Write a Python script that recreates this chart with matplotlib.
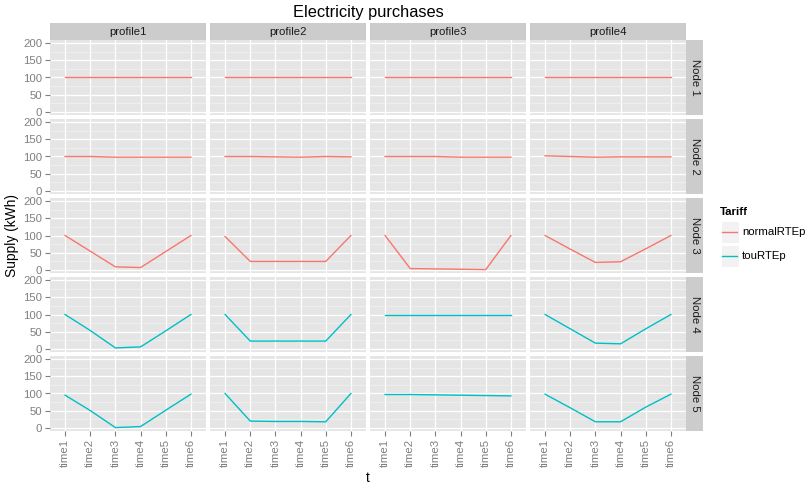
import matplotlib
matplotlib.use("Agg")
import matplotlib.pyplot as plt
from matplotlib.patches import Rectangle
from matplotlib.lines import Line2D

plt.rcParams['font.family'] = ['Liberation Sans', 'DejaVu Sans']

# data
times = ['time1', 'time2', 'time3', 'time4', 'time5', 'time6']
profiles = ['profile1', 'profile2', 'profile3', 'profile4']
nodes = ['Node 1', 'Node 2', 'Node 3', 'Node 4', 'Node 5']
node_tariff = ['normalRTEp', 'normalRTEp', 'normalRTEp', 'touRTEp', 'touRTEp']

# one list per profile, six time steps each
node1 = [[100, 100, 100, 100, 100, 100],
         [100, 100, 100, 100, 100, 100],
         [100, 100, 100, 100, 100, 100],
         [100, 100, 100, 100, 100, 100]]
node2 = [[100, 100, 98, 98, 98, 98],
         [100, 100, 99, 98, 100, 99],
         [100, 100, 100, 98, 98, 98],
         [102, 100, 98, 99, 99, 99]]
node3 = [[100, 54, 8, 6, 53, 100],
         [97, 24, 24, 24, 24, 100],
         [100, 3, 2, 1, 0, 100],
         [100, 60, 21, 23, 61, 100]]
node4 = [[100, 53, 2, 5, 52, 100],
         [100, 22, 22, 22, 22, 100],
         [98, 98, 98, 98, 98, 98],
         [100, 58, 16, 14, 58, 100]]
node5 = [[95, 50, 0, 3, 51, 98],
         [100, 19, 18, 18, 17, 100],
         [97, 97, 96, 95, 94, 93],
         [98, 58, 17, 17, 60, 98]]
supply = [node1, node2, node3, node4, node5]

tariff_colors = {'normalRTEp': '#F8766D', 'touRTEp': '#00BFC4'}

W, H = 810, 486
fig = plt.figure(figsize=(W / 100, H / 100), dpi=100)


def px_axes(x0, y0, x1, y1):
    # axes from pixel box (top-left origin)
    return fig.add_axes([x0 / W, 1 - y1 / H, (x1 - x0) / W, (y1 - y0) / H])


col_left = [50, 210, 370, 530]
panel_w = 156
row_top = [40, 119, 198, 277, 356]
panel_h = 75
grey50 = '#7F7F7F'

for r, node in enumerate(nodes):
    for c, prof in enumerate(profiles):
        x0 = col_left[c]
        y0 = row_top[r]
        ax = px_axes(x0, y0, x0 + panel_w, y0 + panel_h)
        ax.set_facecolor('#E5E5E5')
        for s in ax.spines.values():
            s.set_visible(False)
        ax.set_xlim(-0.6, 5.6)
        ax.set_ylim(-10, 210)
        ax.set_xticks(range(len(times)))
        ax.set_yticks([0, 50, 100, 150, 200])
        ax.set_yticks([25, 75, 125, 175], minor=True)
        ax.grid(which='major', color='white', lw=0.9)
        ax.grid(which='minor', axis='y', color='#F2F2F2', lw=0.5)
        ax.set_axisbelow(True)
        ax.tick_params(which='minor', length=0)
        ax.tick_params(which='major', color=grey50, labelcolor=grey50,
                       labelsize=8.2, length=3.6, width=0.8, pad=2)

        if r == len(nodes) - 1:
            ax.set_xticklabels(times, rotation=90)
        else:
            ax.tick_params(axis='x', length=0, labelbottom=False)
        if c == 0:
            ax.set_yticklabels(['0', '50', '100', '150', '200'])
        else:
            ax.tick_params(axis='y', length=0, labelleft=False)

        ax.plot(range(len(times)), supply[r][c],
                color=tariff_colors[node_tariff[r]], lw=1.0)

        # top strips
        if r == 0:
            sax = px_axes(x0, 23.3, x0 + panel_w, 40)
            sax.set_facecolor('#CCCCCC')
            sax.set_xticks([]); sax.set_yticks([])
            for s in sax.spines.values():
                s.set_visible(False)
            sax.text(0.5, 0.45, prof, ha='center', va='center',
                     fontsize=8.2, color='#1A1A1A', transform=sax.transAxes)

    # right strips
    rax = px_axes(686, row_top[r], 703, row_top[r] + panel_h)
    rax.set_facecolor('#CCCCCC')
    rax.set_xticks([]); rax.set_yticks([])
    for s in rax.spines.values():
        s.set_visible(False)
    rax.text(0.5, 0.5, node, ha='center', va='center', rotation=-90,
             fontsize=8.2, color='#1A1A1A', transform=rax.transAxes)

# titles
fig.text(368 / W, 1 - 13 / H, 'Electricity purchases', ha='center', va='center',
         fontsize=11.8)
fig.text(12 / W, 1 - 235 / H, 'Supply (kWh)', ha='center', va='center',
         rotation=90, fontsize=9.9)
fig.text(368 / W, 1 - 478 / H, 't', ha='center', va='center', fontsize=9.9)

# legend
lax = px_axes(715, 200, 810, 275)
lax.set_xlim(715, 810)
lax.set_ylim(275, 200)
lax.axis('off')
lax.text(720, 212, 'Tariff', ha='left', va='center', fontsize=8.2,
         fontweight='bold')
for i, lab in enumerate(['normalRTEp', 'touRTEp']):
    yc = 232 + i * 24
    lax.add_patch(Rectangle((720.5, yc - 11), 18, 22, facecolor='#F2F2F2',
                            edgecolor='white', lw=0.8))
    lax.add_line(Line2D([722, 737], [yc, yc], color=tariff_colors[lab], lw=1.0))
    lax.text(742, yc, lab, ha='left', va='center', fontsize=8.2)

fig.savefig('out.png', dpi=100)
